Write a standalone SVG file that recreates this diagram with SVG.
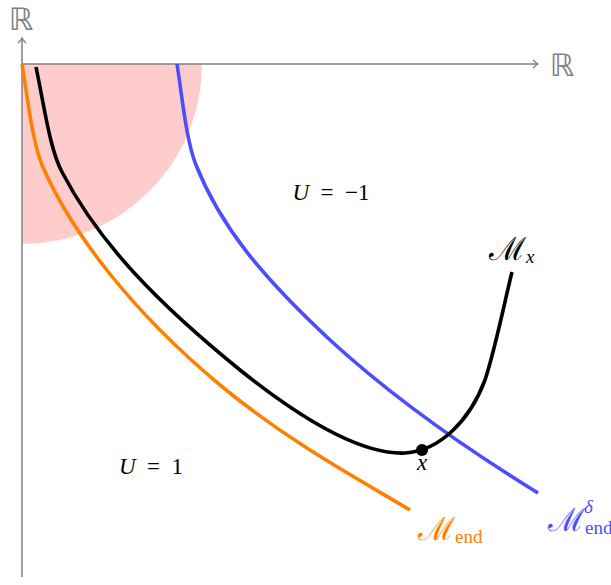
<svg xmlns="http://www.w3.org/2000/svg" width="611" height="585" viewBox="0 0 611 585">
<style>
.ax{stroke:#808080;stroke-width:1.5;fill:none}
.c{fill:none;stroke-width:3.6;stroke-linejoin:round}
.t{font-family:"Liberation Serif","DejaVu Serif",serif;font-size:23px}
.i{font-style:italic}
.bb{font-family:"DejaVu Sans","Noto Sans",sans-serif;font-size:31px;fill:#808080}
.m{font-family:"Liberation Serif","DejaVu Serif",serif;font-size:32px}
.s{font-size:19px}
</style>
<defs>
<marker id="ah" markerWidth="10" markerHeight="10" refX="8" refY="5" orient="auto" markerUnits="userSpaceOnUse">
<path d="M3,1 Q6,4 8,5 Q6,6 3,9" fill="none" stroke="#808080" stroke-width="1.3"/>
</marker>
</defs>
<path d="M22,64 L202,64 A180,180 0 0 1 22,244 Z" fill="#ffcccc"/>
<g id="axes">
<line class="ax" x1="22" y1="577" x2="22" y2="38" marker-end="url(#ah)"/>
<line class="ax" x1="22" y1="64" x2="538" y2="64" marker-end="url(#ah)"/>
<text class="bb" x="21" y="30" text-anchor="middle">ℝ</text>
<text class="bb" x="562" y="76" text-anchor="middle">ℝ</text>
</g>
<g id="connectors">
<path id="m-end" class="c" stroke="#ff8000" d="M22,64 C28,100 32,140 42,165 C70,230 130,310 220,385 C290,443 360,480 410,510"/>
<path id="m-delta" class="c" stroke="#4d4dff" d="M177,64 C182,95 186,140 196,165 C220,225 260,275 330,340 C390,395 460,445 538,493"/>
<path id="m-x" class="c" stroke="#000" stroke-width="4" d="M36,67 C44,105 50,150 62,172 C100,245 160,305 240,370 C300,418 360,455 405,453 C440,451 470,420 485,380 C495,350 505,300 512,272"/>
</g>
<g id="point-x">
<circle cx="422" cy="450" r="6" fill="#000"/>
<text class="t i" x="422" y="470" text-anchor="middle">x</text>
</g>
<g id="labels">
<text class="t" x="331" y="200" text-anchor="middle" xml:space="preserve"><tspan class="i">U</tspan>  =  −1</text>
<text class="t" x="151" y="474" text-anchor="middle" xml:space="preserve"><tspan class="i">U</tspan>  =  1</text>
<text class="m" x="489" y="260">ℳ<tspan class="i s" dy="3">x</tspan></text>
<text class="m" x="418" y="540" fill="#ff8000">ℳ<tspan class="s" dy="3">end</tspan></text>
<text class="m" x="548" y="531" fill="#4d4dff">ℳ<tspan class="s" dy="3">end</tspan></text>
<text class="t i s" x="584" y="513" fill="#4d4dff">δ</text>
</g>
</svg>
